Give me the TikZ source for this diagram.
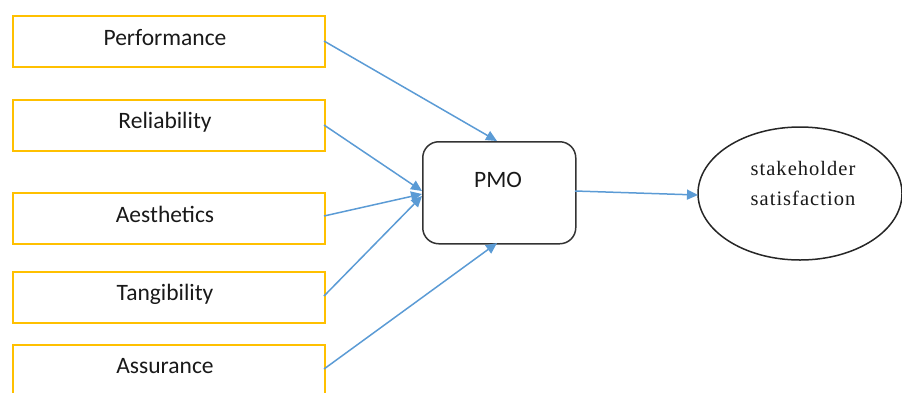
\documentclass[tikz,border=0pt]{standalone}
\usepackage{fontspec}
\setmainfont{Carlito}
\newfontfamily\serifed[LetterSpace=5]{Liberation Serif}
\usetikzlibrary{arrows.meta,shapes.geometric}
\definecolor{boxorange}{HTML}{FFC000}
\definecolor{arrowblue}{HTML}{5B9BD5}
\begin{document}
\begin{tikzpicture}[x=1pt,y=-1pt,
  inbox/.style={draw=boxorange,line width=1.5pt,minimum width=312pt,minimum height=51pt,inner sep=0pt,anchor=north west},
  lbl/.style={font=\fontsize{23.5}{26}\selectfont,text=black!90},
  conn/.style={draw=arrowblue,line width=1.5pt,-{Triangle[length=11pt,width=10pt]}}]
\useasboundingbox (0,0) rectangle (902,392);
\begin{scope}
\clip (0,0) rectangle (902,392);
\node[inbox] (perf) at (12,15) {};
\node[inbox] (reli) at (12,99) {};
\node[inbox] (aest) at (12,192) {};
\node[inbox] (tang) at (12,271) {};
\node[inbox] (assu) at (12,344) {};
\node[lbl] (tperf) at (165,38) {Performance};
\node[lbl] (treli) at (165,122) {Reliability};
\node[lbl] (taest) at (165,214) {Aesthetics};
\node[lbl] (ttang) at (165,294) {Tangibility};
\node[lbl] (tassu) at (165,366) {Assurance};
\node[draw=black!80,line width=1.5pt,rounded corners=16pt,minimum width=153pt,minimum height=102pt,anchor=north west] (pmo) at (422,141) {};
\node[lbl] (tpmo) at (498,180) {PMO};
\node[draw=black!85,line width=1.5pt,ellipse,minimum width=204pt,minimum height=133pt,inner sep=0pt] (sat) at (800,193.5) {};
\node[font=\serifed\fontsize{20.5}{30}\selectfont,align=center,text=black!90] (tsat) at (803,183) {stakeholder\\satisfaction};
\coordinate (p1) at (324,41);
\coordinate (p2) at (324,125);
\coordinate (p3) at (324,216);
\coordinate (p4) at (324,296);
\coordinate (p5) at (324,369);
\coordinate (t1) at (497,141);
\coordinate (t2) at (422,191);
\coordinate (t3) at (422,194);
\coordinate (t4) at (422,196);
\coordinate (t5) at (497,243);
\coordinate (q1) at (575,191);
\coordinate (q2) at (698,195);
\draw[conn] (p1) -- (t1);
\draw[conn] (p2) -- (t2);
\draw[conn] (p3) -- (t3);
\draw[conn] (p4) -- (t4);
\draw[conn] (p5) -- (t5);
\draw[conn] (q1) -- (q2);
\end{scope}
\end{tikzpicture}
\end{document}
